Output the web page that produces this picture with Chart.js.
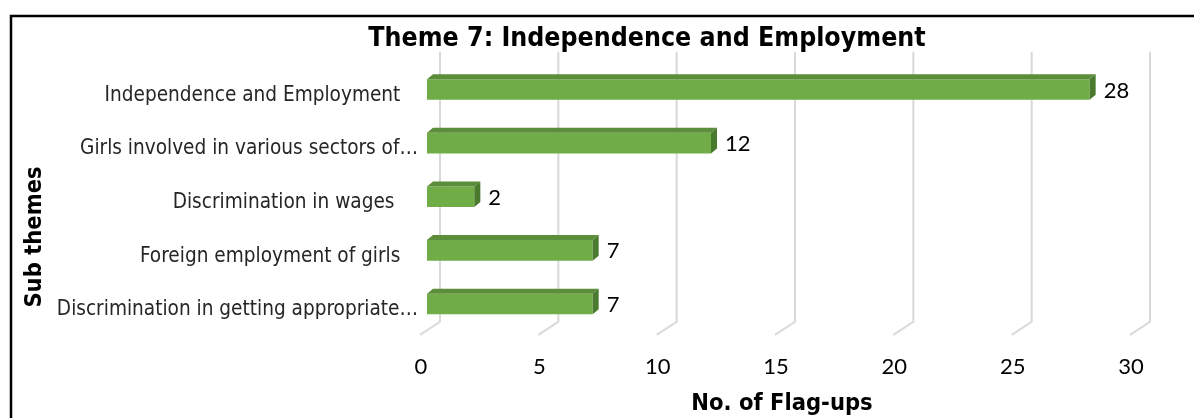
<!DOCTYPE html>
<html>
<head>
<meta charset="utf-8">
<title>Theme 7: Independence and Employment</title>
<script src="https://cdn.jsdelivr.net/npm/chart.js@4.4.0/dist/chart.umd.min.js"></script>
<style>
  html, body { margin: 0; padding: 0; background: #fff; }
  #wrap { width: 1194px; height: 418px; }
</style>
</head>
<body>
<div id="wrap"><canvas id="flagups" width="1194" height="418"></canvas></div>
<script>
// sub themes (trailing spaces keep the labels where the sheet had them)
const subThemes = [
  'Independence and Employment   ',
  'Girls involved in various sectors of\u2026',
  'Discrimination in wages    ',
  'Foreign employment of girls   ',
  'Discrimination in getting appropriate\u2026'
];
const flagUps = [28, 12, 2, 7, 7];
const xTicks = [0, 5, 10, 15, 20, 25, 30];

const chartTitle = 'Theme 7: Independence and Employment';
const yTitle = 'Sub themes';
const xTitle = 'No. of Flag-ups';

const labelFont = '"DejaVu Sans Condensed", "DejaVu Sans", sans-serif';
const numFont = 'Lato, "Open Sans", sans-serif';

// fake 3d: bar depth, back wall and floor edge offsets
const DEPTH = { dx: 6, dy: -5 };
const BACK = { dx: 13, top: -11, bottom: -9 };
const FRONT = { dx: -7, bottom: 4 };

const excel3d = {
  id: 'excel3d',
  afterLayout(chart) {
    // title is centred over the whole plot, not just the bars
    if (chart.titleBlock) {
      chart.titleBlock.left = 100;
      chart.titleBlock.right = 1194;
    }
  },
  beforeDraw(chart) {
    const ctx = chart.ctx;
    ctx.save();
    ctx.fillStyle = '#fff';
    ctx.fillRect(0, 0, chart.width, chart.height);
    ctx.strokeStyle = '#000';
    ctx.lineWidth = 2.5;
    ctx.beginPath();
    ctx.moveTo(11, chart.height);
    ctx.lineTo(11, 16);
    ctx.lineTo(chart.width, 16);
    ctx.stroke();
    ctx.restore();
  },
  beforeDatasetsDraw(chart) {
    const ctx = chart.ctx;
    const xs = chart.scales.x;
    const area = chart.chartArea;
    ctx.save();
    ctx.strokeStyle = '#d9d9d9';
    ctx.lineWidth = 2;
    xs.ticks.forEach(t => {
      const px = xs.getPixelForValue(t.value);
      ctx.beginPath();
      ctx.moveTo(px + BACK.dx, area.top + BACK.top);
      ctx.lineTo(px + BACK.dx, area.bottom + BACK.bottom);
      ctx.lineTo(px + FRONT.dx, area.bottom + FRONT.bottom);
      ctx.stroke();
    });
    ctx.restore();
  },
  afterDatasetsDraw(chart) {
    const ctx = chart.ctx;
    const meta = chart.getDatasetMeta(0);
    ctx.save();
    meta.data.forEach((bar, i) => {
      const { x, y, base, height } = bar.getProps(['x', 'y', 'base', 'height'], true);
      const top = y - height / 2;
      const bot = y + height / 2;
      // top face
      ctx.fillStyle = '#5b8d3b';
      ctx.beginPath();
      ctx.moveTo(base, top);
      ctx.lineTo(base + DEPTH.dx, top + DEPTH.dy);
      ctx.lineTo(x + DEPTH.dx, top + DEPTH.dy);
      ctx.lineTo(x, top);
      ctx.closePath();
      ctx.fill();
      // end face
      ctx.fillStyle = '#4a7a2e';
      ctx.beginPath();
      ctx.moveTo(x, top);
      ctx.lineTo(x + DEPTH.dx, top + DEPTH.dy);
      ctx.lineTo(x + DEPTH.dx, bot + DEPTH.dy);
      ctx.lineTo(x, bot);
      ctx.closePath();
      ctx.fill();
      // value label
      ctx.fillStyle = '#000';
      ctx.font = '22px ' + numFont;
      ctx.textAlign = 'left';
      ctx.textBaseline = 'middle';
      ctx.fillText(String(flagUps[i]), x + DEPTH.dx + 8, y + 1);
    });

    // vertical axis title
    ctx.translate(35, 237);
    ctx.rotate(-Math.PI / 2);
    ctx.font = 'bold 23.5px ' + labelFont;
    ctx.fillStyle = '#000';
    ctx.textAlign = 'center';
    ctx.textBaseline = 'middle';
    ctx.fillText(yTitle, 0, 0);
    ctx.restore();
  }
};

new Chart(document.getElementById('flagups').getContext('2d'), {
  type: 'bar',
  data: {
    labels: subThemes,
    datasets: [{
      data: flagUps,
      backgroundColor: '#70ad47',
      borderWidth: 0,
      barPercentage: 0.385,
      categoryPercentage: 1
    }]
  },
  options: {
    indexAxis: 'y',
    responsive: false,
    devicePixelRatio: 1,
    animation: false,
    layout: { padding: { left: 13, right: 57, top: 16, bottom: 0 } },
    plugins: {
      legend: { display: false },
      tooltip: { enabled: false },
      title: {
        display: true,
        text: chartTitle,
        color: '#000',
        font: { family: labelFont, size: 26.5, weight: 'bold' },
        padding: { top: 7.1, bottom: 7.8 }
      }
    },
    scales: {
      x: {
        type: 'linear',
        min: 0,
        max: 30,
        afterBuildTicks: s => { s.ticks = xTicks.map(v => ({ value: v })); },
        afterFit: s => { s.height = 87.2; },
        grid: { display: false, drawTicks: false },
        border: { display: false },
        ticks: {
          color: '#000',
          font: { family: numFont, size: 22 },
          padding: 23,
          labelOffset: -6,
          maxRotation: 0
        },
        title: {
          display: true,
          text: xTitle,
          color: '#000',
          font: { family: labelFont, size: 23.5, weight: 'bold' },
          padding: { top: 0, bottom: 0 }
        }
      },
      y: {
        grid: { display: false, drawTicks: false },
        border: { display: false },
        afterFit: s => { s.width = 414; },
        ticks: {
          color: '#262626',
          font: { family: labelFont, size: 20.6 },
          padding: 9,
          labelOffset: 6
        }
      }
    }
  },
  plugins: [excel3d]
});
</script>
</body>
</html>
